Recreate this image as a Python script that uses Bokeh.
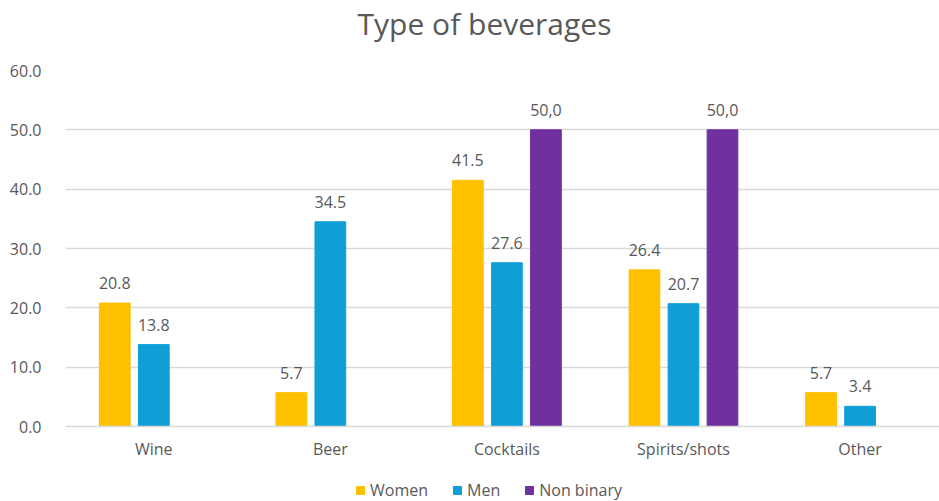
from bokeh.plotting import figure
from bokeh.layouts import column
from bokeh.models import (ColumnDataSource, Range1d, FixedTicker, Legend, LegendItem,
                          LabelSet, NumeralTickFormatter)
from bokeh.core.properties import value
from bokeh.embed import file_html
from bokeh.resources import INLINE

title = "Type of beverages"
categories = ["Wine", "Beer", "Cocktails", "Spirits/shots", "Other"]
series = ["Women", "Men", "Non binary"]
women = [20.8, 5.7, 41.5, 26.4, 5.7]
men = [13.8, 34.5, 27.6, 20.7, 3.4]
non_binary = [None, None, 50.0, 50.0, None]
women_labels = ["20.8", "5.7", "41.5", "26.4", "5.7"]
men_labels = ["13.8", "34.5", "27.6", "20.7", "3.4"]
nb_labels = ["", "", "50,0", "50,0", ""]
colors = ["#FFC000", "#0F9ED5", "#7030A0"]
y_ticks = [0, 10, 20, 30, 40, 50, 60]

FONT = "Open Sans"
GREY = "#595959"

# title strip (frame aligned with the chart frame: pixels 65..939)
tf = figure(width=939, height=56, output_backend="svg", toolbar_location=None,
            x_range=Range1d(65, 939), y_range=Range1d(0, 56), min_border=0,
            x_axis_location=None, y_axis_location=None)
tf.grid.visible = False
tf.outline_line_color = None
tf.text(x=[484], y=[56 - 23], text=[title], text_align="center",
        text_baseline="middle", text_font=value(FONT), text_font_size="30px",
        text_color=GREY)

# main chart
p = figure(width=939, height=414, output_backend="svg", toolbar_location=None,
           x_range=Range1d(0, 4.95), y_range=Range1d(0, 60),
           min_border_left=65, min_border_right=0, min_border_top=14,
           min_border_bottom=44)
p.outline_line_color = None
p.background_fill_color = "white"
p.border_fill_color = "white"

offsets = [-0.221, 0.0, 0.221]
bar_w = 0.174
values = [women, men, non_binary]
labels = [women_labels, men_labels, nb_labels]
for k, (vals, labs, col) in enumerate(zip(values, labels, colors)):
    xs, ys, ts = [], [], []
    for i, v in enumerate(vals):
        if v is None:
            continue
        xs.append(i + 0.5 + offsets[k])
        ys.append(v)
        ts.append(labs[i])
    src = ColumnDataSource(dict(x=xs, top=ys, text=ts))
    p.vbar(x="x", top="top", width=bar_w, bottom=0, source=src,
           fill_color=col, line_color=col)
    p.add_layout(LabelSet(x="x", y="top", text="text", source=src,
                          text_align="center", text_baseline="bottom",
                          y_offset=14, text_font=value(FONT),
                          text_font_size=value("16px"),
                          text_color=GREY))

p.xaxis.ticker = FixedTicker(ticks=[i + 0.5 for i in range(len(categories))])
p.xaxis.major_label_overrides = {i + 0.5: c for i, c in enumerate(categories)}
p.xaxis.major_tick_line_color = None
p.xaxis.minor_tick_line_color = None
p.xaxis.axis_line_color = "#D9D9D9"
p.xaxis.axis_line_width = 1.5
p.xaxis.major_label_text_font = FONT
p.xaxis.major_label_text_font_size = "16px"
p.xaxis.major_label_text_color = GREY
p.xaxis.major_label_standoff = 5

p.yaxis.ticker = FixedTicker(ticks=y_ticks)
p.yaxis.formatter = NumeralTickFormatter(format="0.0")
p.yaxis.major_tick_line_color = None
p.yaxis.minor_tick_line_color = None
p.yaxis.axis_line_color = None
p.yaxis.major_label_text_font = FONT
p.yaxis.major_label_text_font_size = "16px"
p.yaxis.major_label_text_color = GREY
p.yaxis.major_label_standoff = 18

p.xgrid.grid_line_color = None
p.ygrid.grid_line_color = "#D9D9D9"
p.ygrid.grid_line_width = 1.5

# legend strip below the chart
lg = figure(width=939, height=31, output_backend="svg", toolbar_location=None,
            x_range=Range1d(0, 1), y_range=Range1d(0, 1), min_border=0,
            x_axis_location=None, y_axis_location=None)
lg.grid.visible = False
lg.outline_line_color = None
lg.border_fill_color = "white"
items = []
for s, col in zip(series, colors):
    r = lg.rect(x=[-5], y=[-5], width=0.1, height=0.1, fill_color=col, line_color=col)
    items.append(LegendItem(label=s, renderers=[r]))
legend = Legend(items=items, orientation="horizontal", location=(290, 0),
                label_text_font=FONT, label_text_font_size="16px",
                label_text_color=GREY, glyph_width=10, glyph_height=10,
                spacing=24, label_standoff=5, border_line_color=None,
                background_fill_alpha=0, padding=0, margin=0)
lg.add_layout(legend, "center")

layout = column(tf, p, lg, spacing=0)
open("out.html", "w").write(file_html(layout, INLINE))
